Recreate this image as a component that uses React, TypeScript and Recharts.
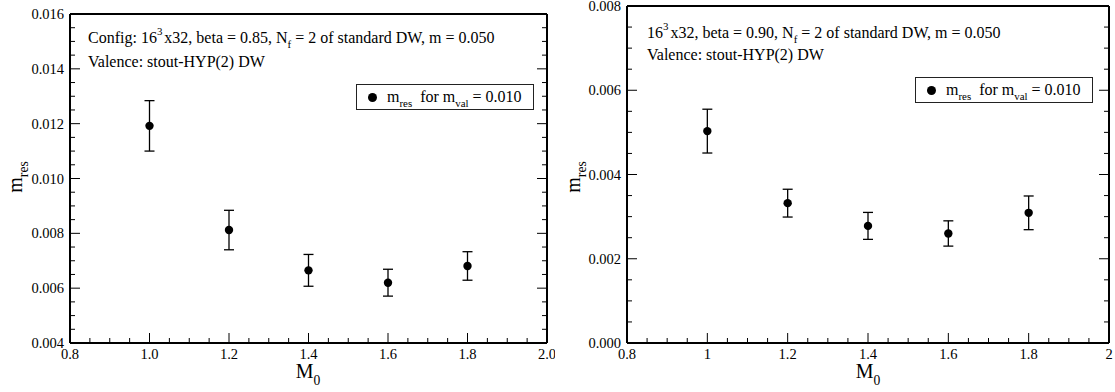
import React from 'react';
import { ScatterChart, Scatter, XAxis, YAxis, ErrorBar } from 'recharts';

// ---- data ----
const m0Values = [1.0, 1.2, 1.4, 1.6, 1.8];
const mresLeft = [0.01192, 0.00812, 0.00665, 0.0062, 0.00681];
const errLeft = [0.00092, 0.00072, 0.00058, 0.00049, 0.00052];
const mresRight = [0.00503, 0.00332, 0.00278, 0.0026, 0.00309];
const errRight = [0.00052, 0.00033, 0.00032, 0.0003, 0.0004];

const xMajorTicks = [0.8, 1.0, 1.2, 1.4, 1.6, 1.8, 2.0];
const xAllTicks = [0.8, 0.85, 0.9, 0.95, 1.0, 1.05, 1.1, 1.15, 1.2, 1.25, 1.3, 1.35, 1.4, 1.45, 1.5, 1.55, 1.6, 1.65, 1.7, 1.75, 1.8, 1.85, 1.9, 1.95, 2.0];
const xLabelsLeft = ['0.8', '1.0', '1.2', '1.4', '1.6', '1.8', '2.0'];
const xLabelsRight = ['0.8', '1', '1.2', '1.4', '1.6', '1.8', '2'];

const yMajorLeft = [0.004, 0.006, 0.008, 0.01, 0.012, 0.014, 0.016];
const yAllLeft = [0.004, 0.0045, 0.005, 0.0055, 0.006, 0.0065, 0.007, 0.0075, 0.008, 0.0085, 0.009, 0.0095, 0.01, 0.0105, 0.011, 0.0115, 0.012, 0.0125, 0.013, 0.0135, 0.014, 0.0145, 0.015, 0.0155, 0.016];
const yLabelsLeft = ['0.004', '0.006', '0.008', '0.010', '0.012', '0.014', '0.016'];

const yMajorRight = [0, 0.002, 0.004, 0.006, 0.008];
const yAllRight = [0, 0.0005, 0.001, 0.0015, 0.002, 0.0025, 0.003, 0.0035, 0.004, 0.0045, 0.005, 0.0055, 0.006, 0.0065, 0.007, 0.0075, 0.008];
const yLabelsRight = ['0.000', '0.002', '0.004', '0.006', '0.008'];

const dataLeft = m0Values.map((x, i) => ({ x, y: mresLeft[i], err: errLeft[i] }));
const dataRight = m0Values.map((x, i) => ({ x, y: mresRight[i], err: errRight[i] }));

const FONT = '"Liberation Serif", "Times New Roman", Times, serif';
const TICK_FS = 14.5;

type Side = 'bottom' | 'top' | 'left' | 'right';

const tickTextStyle: React.CSSProperties = { fontFamily: FONT, fontSize: TICK_FS, fill: '#000' };

function makeTick(side: Side, majors: number[], labels: string[] | null) {
  return (props: any) => {
    const { x, y, payload } = props;
    const v = payload.value;
    const idx = majors.findIndex((m) => Math.abs(m - v) < 1e-9);
    const major = idx >= 0;
    const len = major ? 10 : 5;
    let line;
    let label = null;
    if (side === 'bottom') {
      line = <line x1={x} y1={y} x2={x} y2={y - len} stroke="#000" strokeWidth={1} />;
      if (major && labels) {
        label = (
          <text x={x} y={y + 16} textAnchor="middle" style={tickTextStyle}>
            {labels[idx]}
          </text>
        );
      }
    } else if (side === 'top') {
      line = <line x1={x} y1={y} x2={x} y2={y + len} stroke="#000" strokeWidth={1} />;
    } else if (side === 'left') {
      line = <line x1={x} y1={y} x2={x + len} y2={y} stroke="#000" strokeWidth={1} />;
      if (major && labels) {
        label = (
          <text x={x - 6} y={y + 5} textAnchor="end" style={tickTextStyle}>
            {labels[idx]}
          </text>
        );
      }
    } else {
      line = <line x1={x} y1={y} x2={x - len} y2={y} stroke="#000" strokeWidth={1} />;
    }
    return (
      <g>
        {line}
        {label}
      </g>
    );
  };
}

const dot = (props: any) => <circle cx={props.cx} cy={props.cy} r={4.2} fill="#000" />;

const axisLineStyle = { stroke: '#000', strokeWidth: 2 };

function Panel(props: {
  width: number;
  data: any[];
  yDomain: [number, number];
  yMajor: number[];
  yAll: number[];
  yLabels: string[];
  xLabels: string[];
  leftW: number;
  rightW: number;
  topH: number;
}) {
  const { width, data, yDomain, yMajor, yAll, yLabels, xLabels, leftW, rightW, topH } = props;
  return (
    <ScatterChart width={width} height={392} margin={{ top: 0, right: 0, bottom: 0, left: 0 }} style={{ fontFamily: FONT }}>
      <XAxis
        xAxisId="b"
        dataKey="x"
        type="number"
        orientation="bottom"
        domain={[0.8, 2.0]}
        allowDataOverflow
        ticks={xAllTicks}
        interval={0}
        height={49}
        tickSize={0}
        tickMargin={0}
        tickLine={false}
        axisLine={axisLineStyle}
        tick={makeTick('bottom', xMajorTicks, xLabels)}
      />
      <XAxis
        xAxisId="t"
        type="number"
        orientation="top"
        domain={[0.8, 2.0]}
        allowDataOverflow
        ticks={xAllTicks}
        interval={0}
        height={topH}
        tickSize={0}
        tickMargin={0}
        tickLine={false}
        axisLine={axisLineStyle}
        tick={makeTick('top', xMajorTicks, null)}
      />
      <YAxis
        yAxisId="l"
        dataKey="y"
        type="number"
        orientation="left"
        domain={yDomain}
        allowDataOverflow
        ticks={yAll}
        interval={0}
        width={leftW}
        tickSize={0}
        tickMargin={0}
        tickLine={false}
        axisLine={axisLineStyle}
        tick={makeTick('left', yMajor, yLabels)}
      />
      <YAxis
        yAxisId="r"
        type="number"
        orientation="right"
        domain={yDomain}
        allowDataOverflow
        ticks={yAll}
        interval={0}
        width={rightW}
        tickSize={0}
        tickMargin={0}
        tickLine={false}
        axisLine={axisLineStyle}
        tick={makeTick('right', yMajor, null)}
      />
      <Scatter
        xAxisId="b"
        yAxisId="l"
        data={data}
        dataKey="y"
        fill="#000"
        shape={dot}
        isAnimationActive={false}
      >
        <ErrorBar dataKey="err" direction="y" width={5} stroke="#000" strokeWidth={1.3} isAnimationActive={false} />
      </Scatter>
    </ScatterChart>
  );
}

const textStyle: React.CSSProperties = {
  position: 'absolute',
  fontFamily: FONT,
  color: '#000',
  whiteSpace: 'nowrap',
  lineHeight: 1,
};

const sup = (t: string) => (
  <span style={{ fontSize: '0.68em', position: 'relative', top: '-0.75em', marginRight: 2 }}>{t}</span>
);
const sub = (t: string, drop = '0.45em') => (
  <span style={{ fontSize: '0.68em', position: 'relative', top: drop }}>{t}</span>
);

function LegendBox({ left, top }: { left: number; top: number }) {
  return (
    <div
      style={{
        position: 'absolute',
        left,
        top,
        width: 178,
        height: 26,
        border: '1px solid #222',
        background: '#fff',
        boxSizing: 'border-box',
      }}
    >
      <div
        style={{
          position: 'absolute',
          left: 11,
          top: 8,
          width: 9,
          height: 9,
          borderRadius: '50%',
          background: '#000',
        }}
      />
      <div style={{ ...textStyle, left: 30, top: 4, fontSize: 16 }}>
        m{sub('res')}&nbsp;&nbsp;for m{sub('val')}&nbsp;= 0.010
      </div>
    </div>
  );
}

export default function App() {
  return (
    <div style={{ position: 'absolute', left: 0, top: 0, width: 1115, height: 392, background: '#fff', overflow: 'hidden' }}>
      <div style={{ position: 'absolute', left: 0, top: 0 }}>
        <Panel
          width={555}
          data={dataLeft}
          yDomain={[0.004, 0.016]}
          yMajor={yMajorLeft}
          yAll={yAllLeft}
          yLabels={yLabelsLeft}
          xLabels={xLabelsLeft}
          leftW={70}
          rightW={8}
          topH={14}
        />
      </div>
      <div style={{ position: 'absolute', left: 555, top: 0 }}>
        <Panel
          width={560}
          data={dataRight}
          yDomain={[0, 0.008]}
          yMajor={yMajorRight}
          yAll={yAllRight}
          yLabels={yLabelsRight}
          xLabels={xLabelsRight}
          leftW={72}
          rightW={6}
          topH={6}
        />
      </div>

      {/* left panel annotations */}
      <div style={{ ...textStyle, left: 88, top: 30, fontSize: 16 }}>
        Config: 16{sup('3')}x32, beta = 0.85, N{sub('f')}&nbsp;= 2 of standard DW, m = 0.050
      </div>
      <div style={{ ...textStyle, left: 88, top: 54, fontSize: 16 }}>Valence: stout-HYP(2) DW</div>
      <LegendBox left={356} top={84} />

      {/* right panel annotations */}
      <div style={{ ...textStyle, left: 647, top: 25, fontSize: 16 }}>
        16{sup('3')}x32, beta = 0.90, N{sub('f')}&nbsp;= 2 of standard DW, m = 0.050
      </div>
      <div style={{ ...textStyle, left: 647, top: 47, fontSize: 16 }}>Valence: stout-HYP(2) DW</div>
      <LegendBox left={915} top={77} />

      {/* axis titles */}
      <div style={{ ...textStyle, left: 308, top: 361, fontSize: 20, transform: 'translateX(-50%)' }}>
        M{sub('0', '0.55em')}
      </div>
      <div style={{ ...textStyle, left: 868, top: 361, fontSize: 20, transform: 'translateX(-50%)' }}>
        M{sub('0', '0.55em')}
      </div>
      <div
        style={{
          ...textStyle,
          left: 15,
          top: 177,
          fontSize: 20,
          transform: 'translate(-50%, -50%) rotate(-90deg)',
        }}
      >
        m{sub('res')}
      </div>
      <div
        style={{
          ...textStyle,
          left: 573,
          top: 177,
          fontSize: 20,
          transform: 'translate(-50%, -50%) rotate(-90deg)',
        }}
      >
        m{sub('res')}
      </div>
    </div>
  );
}
